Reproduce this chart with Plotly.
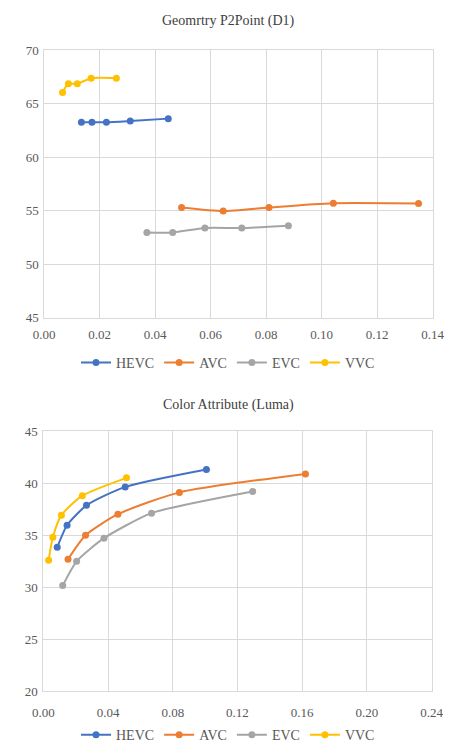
import plotly.graph_objects as go

# Geometry P2Point (D1): bitrate vs PSNR
geo_hevc_x = [0.0134, 0.0172, 0.0224, 0.0310, 0.0447]
geo_hevc_y = [63.26, 63.26, 63.26, 63.38, 63.60]
geo_avc_x = [0.0495, 0.0645, 0.0810, 0.1042, 0.1349]
geo_avc_y = [55.30, 54.97, 55.30, 55.70, 55.68]
geo_evc_x = [0.0370, 0.0463, 0.0579, 0.0712, 0.0880]
geo_evc_y = [52.96, 52.96, 53.38, 53.38, 53.60]
geo_vvc_x = [0.0066, 0.0087, 0.0119, 0.0169, 0.0260]
geo_vvc_y = [66.04, 66.86, 66.86, 67.38, 67.38]

# Color attribute (Luma): bitrate vs PSNR
col_hevc_x = [0.0086, 0.0147, 0.0267, 0.0506, 0.1008]
col_hevc_y = [33.84, 35.97, 37.88, 39.66, 41.34]
col_avc_x = [0.0153, 0.0261, 0.0461, 0.0841, 0.1620]
col_avc_y = [32.69, 35.00, 37.03, 39.13, 40.91]
col_evc_x = [0.0120, 0.0206, 0.0375, 0.0669, 0.1294]
col_evc_y = [30.16, 32.50, 34.72, 37.13, 39.22]
col_vvc_x = [0.0033, 0.0059, 0.0112, 0.0241, 0.0514]
col_vvc_y = [32.59, 34.81, 36.94, 38.81, 40.53]

names = ["HEVC", "AVC", "EVC", "VVC"]
colors = ["#4472C4", "#ED7D31", "#A5A5A5", "#FFC000"]

geo = [(geo_hevc_x, geo_hevc_y), (geo_avc_x, geo_avc_y),
       (geo_evc_x, geo_evc_y), (geo_vvc_x, geo_vvc_y)]
col = [(col_hevc_x, col_hevc_y), (col_avc_x, col_avc_y),
       (col_evc_x, col_evc_y), (col_vvc_x, col_vvc_y)]

FONT = "Liberation Serif"
W, H = 457, 755

fig = go.Figure()

for (x, y), n, c in zip(geo, names, colors):
    fig.add_trace(go.Scatter(
        x=x, y=y, name=n, mode="lines+markers",
        line=dict(color=c, width=2, shape="spline", smoothing=0.6),
        marker=dict(color=c, size=7),
        xaxis="x", yaxis="y", legend="legend"))

for (x, y), n, c in zip(col, names, colors):
    fig.add_trace(go.Scatter(
        x=x, y=y, name=n, mode="lines+markers",
        line=dict(color=c, width=2, shape="spline", smoothing=0.6),
        marker=dict(color=c, size=7),
        xaxis="x2", yaxis="y2", legend="legend2"))

def px_x(p):
    return p / W

def px_y(p):
    return 1 - p / H

grid = "#D9D9D9"
tickfont = dict(family=FONT, size=13, color="#595959")

axis_common = dict(showgrid=True, gridcolor=grid, gridwidth=1,
                   zeroline=False, showline=True, linecolor=grid,
                   mirror=True, ticks="", tickfont=tickfont)

fig.update_layout(
    width=W, height=H,
    margin=dict(l=0, r=0, t=0, b=0),
    paper_bgcolor="white", plot_bgcolor="white",
    font=dict(family=FONT),
    xaxis=dict(domain=[px_x(35), px_x(444)], range=[0, 0.14], dtick=0.02,
               tickformat=".2f", anchor="y", ticklabelstandoff=5,
               **axis_common),
    yaxis=dict(domain=[px_y(317), px_y(44)], range=[45, 70], dtick=5,
               anchor="x", ticklabelstandoff=2, **axis_common),
    xaxis2=dict(domain=[px_x(34), px_x(443)], range=[0, 0.24], dtick=0.04,
                tickformat=".2f", anchor="y2", ticklabelstandoff=9,
                **axis_common),
    yaxis2=dict(domain=[px_y(698), px_y(433)], range=[20, 45], dtick=5,
                anchor="x2", ticklabelstandoff=2, **axis_common),
    legend=dict(orientation="h", x=0.5, xanchor="center",
                y=px_y(363), yanchor="middle",
                font=dict(family=FONT, size=14, color="#595959"),
                itemwidth=30, tracegroupgap=0),
    legend2=dict(orientation="h", x=0.5, xanchor="center",
                 y=px_y(743), yanchor="middle",
                 font=dict(family=FONT, size=14, color="#595959"),
                 itemwidth=30, tracegroupgap=0),
    annotations=[
        dict(text="Geomrtry P2Point (D1)", x=0.5, y=px_y(14),
             xref="paper", yref="paper", showarrow=False,
             yanchor="middle", font=dict(family=FONT, size=14, color="#404040")),
        dict(text="Color Attribute (Luma)", x=0.5, y=px_y(406),
             xref="paper", yref="paper", showarrow=False,
             yanchor="middle", font=dict(family=FONT, size=14, color="#404040")),
    ],
)

fig.write_html("out.html")
